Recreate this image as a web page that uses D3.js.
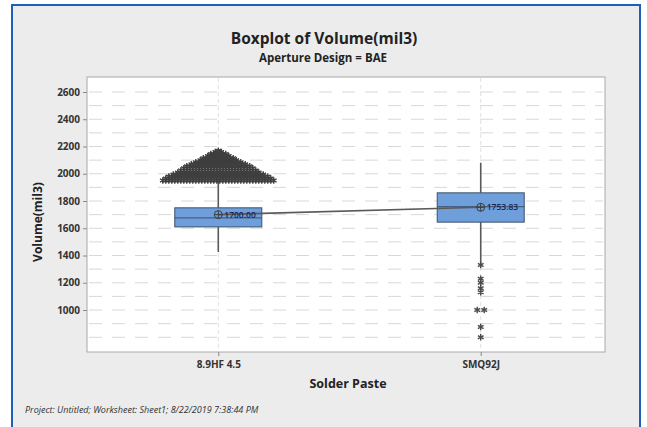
<!DOCTYPE html>
<html>
<head>
<meta charset="utf-8">
<script src="https://cdn.jsdelivr.net/npm/d3@7"></script>
<style>
  html, body { margin: 0; padding: 0; background: #ffffff; }
  svg { display: block; }
  text { font-family: "Open Sans", "Noto Sans", sans-serif; }
</style>
</head>
<body>
<div id="chart"></div>
<script>
// ---------- data ----------
const categories = ["8.9HF 4.5", "SMQ92J"];
const q1Values = [1610, 1645];
const medianValues = [1676, 1758];
const q3Values = [1750, 1860];
const whiskerLow = [1426, 1342];
const whiskerHigh = [1950, 2080];
const meanValues = [1700.00, 1753.83];
const meanLabels = ["1700.00", "1753.83"];

// outliers of "8.9HF 4.5": value levels and the number of tied points at each level
const outlierLevels1 = [1950, 1965, 1980, 1995, 2010, 2025, 2040, 2055, 2070, 2085, 2100, 2115, 2130, 2145, 2160, 2170];
const outlierCounts1 = [38, 36, 34, 31, 28, 26, 24, 22, 19, 16, 13, 11, 8, 6, 3, 1];
// outliers of "SMQ92J"
const outlierLevels2 = [1330, 1230, 1200, 1160, 1130, 1000, 875, 800];
const outlierCounts2 = [1, 1, 1, 1, 1, 2, 1, 1];

const yTicks = [1000, 1200, 1400, 1600, 1800, 2000, 2200, 2400, 2600];
const yGrid = [800, 900, 1000, 1100, 1200, 1300, 1400, 1500, 1600, 1700, 1800, 1900, 2000, 2100, 2200, 2300, 2400, 2500, 2600];

const titleText = "Boxplot of Volume(mil3)";
const subtitleText = "Aperture Design = BAE";
const xTitle = "Solder Paste";
const yTitle = "Volume(mil3)";
const footerText = "Project: Untitled; Worksheet: Sheet1; 8/22/2019 7:38:44 PM";

// ---------- layout ----------
const W = 647, H = 427;
const plot = { left: 87, right: 605, top: 77, bottom: 352 };

const svg = d3.select("#chart").append("svg").attr("width", W).attr("height", H);

// panel
svg.append("rect").attr("x", 0).attr("y", 0).attr("width", W).attr("height", H).attr("fill", "#ffffff");
svg.append("rect").attr("x", 12).attr("y", 5).attr("width", 628).attr("height", 440)
  .attr("fill", "#ececec").attr("stroke", "#1f5fb8").attr("stroke-width", 2);

// plot area
svg.append("rect").attr("x", plot.left).attr("y", plot.top)
  .attr("width", plot.right - plot.left).attr("height", plot.bottom - plot.top)
  .attr("fill", "#ffffff").attr("stroke", "#a8a8a8").attr("stroke-width", 1);

const y = d3.scaleLinear().domain([692, 2710]).range([plot.bottom, plot.top]);
const x = d3.scalePoint().domain(categories).range([91, 608]).padding(0.485);

// gridlines
const g = svg.append("g");
g.selectAll("line.hgrid").data(yGrid).enter().append("line")
  .attr("x1", plot.left + 2).attr("x2", plot.right - 2)
  .attr("y1", d => y(d)).attr("y2", d => y(d))
  .attr("stroke", "#d8d8d8").attr("stroke-width", 1).attr("stroke-dasharray", "13,10");
g.selectAll("line.vgrid").data(categories).enter().append("line")
  .attr("x1", d => x(d)).attr("x2", d => x(d))
  .attr("y1", plot.top + 1).attr("y2", plot.bottom - 1)
  .attr("stroke", "#e0e0e0").attr("stroke-width", 1).attr("stroke-dasharray", "4,3");

// axes
const yAxis = d3.axisLeft(y).tickValues(yTicks).tickSize(4).tickPadding(3).tickFormat(d3.format("d"));
const ya = svg.append("g").attr("transform", `translate(${plot.left},0)`).call(yAxis);
ya.select(".domain").remove();
ya.selectAll(".tick line").attr("stroke", "#8a8a8a");
ya.selectAll(".tick text").attr("font-size", 10).attr("font-weight", "bold").attr("fill", "#333");

const xAxis = d3.axisBottom(x).tickSize(4).tickPadding(5);
const xa = svg.append("g").attr("transform", `translate(0,${plot.bottom})`).call(xAxis);
xa.select(".domain").remove();
xa.selectAll(".tick line").attr("stroke", "#8a8a8a");
xa.selectAll(".tick text").attr("font-size", 10).attr("font-weight", "bold").attr("fill", "#333");

// asterisk symbol path
function asterisk(r) {
  const a = r * Math.cos(Math.PI / 6), b = r * Math.sin(Math.PI / 6);
  return `M0,${-r}L0,${r}M${-a},${-b}L${a},${b}M${-a},${b}L${a},${-b}`;
}

const boxW = 87;
const idx = d3.range(categories.length);

// whiskers
svg.selectAll("line.wl").data(idx).enter().append("line")
  .attr("x1", i => x(categories[i])).attr("x2", i => x(categories[i]))
  .attr("y1", i => y(q1Values[i])).attr("y2", i => y(whiskerLow[i]))
  .attr("stroke", "#595959").attr("stroke-width", 1.6);
svg.selectAll("line.wh").data(idx).enter().append("line")
  .attr("x1", i => x(categories[i])).attr("x2", i => x(categories[i]))
  .attr("y1", i => y(q3Values[i])).attr("y2", i => y(whiskerHigh[i]))
  .attr("stroke", "#595959").attr("stroke-width", 1.6);

// outliers
function drawOutliers(cat, levels, counts, spacing, r, color, sw) {
  const pts = [];
  levels.forEach((v, k) => {
    const n = counts[k];
    for (let j = 0; j < n; j++) pts.push({ v: v, dx: (j - (n - 1) / 2) * spacing });
  });
  svg.append("g").selectAll("path").data(pts).enter().append("path")
    .attr("transform", d => `translate(${x(cat) + d.dx},${y(d.v)})`)
    .attr("d", asterisk(r))
    .attr("stroke", color).attr("stroke-width", sw).attr("fill", "none");
}
drawOutliers(categories[0], outlierLevels1, outlierCounts1, 3, 3.2, "#3f3f3f", 1.4);
drawOutliers(categories[1], outlierLevels2, outlierCounts2, 7, 3.3, "#4a4a4a", 1.4);

// boxes
svg.selectAll("rect.box").data(idx).enter().append("rect")
  .attr("x", i => x(categories[i]) - boxW / 2).attr("width", boxW)
  .attr("y", i => y(q3Values[i])).attr("height", i => y(q1Values[i]) - y(q3Values[i]))
  .attr("fill", "#6e9fdb").attr("stroke", "#3b4f6e").attr("stroke-width", 1);
svg.selectAll("line.med").data(idx).enter().append("line")
  .attr("x1", i => x(categories[i]) - boxW / 2).attr("x2", i => x(categories[i]) + boxW / 2)
  .attr("y1", i => y(medianValues[i])).attr("y2", i => y(medianValues[i]))
  .attr("stroke", "#3b4f6e").attr("stroke-width", 1);

// mean connect line
const meanLine = d3.line().x(i => x(categories[i])).y(i => y(meanValues[i]));
svg.append("path").datum(idx).attr("d", meanLine)
  .attr("fill", "none").attr("stroke", "#5a5a5a").attr("stroke-width", 1.6);

// mean symbols
const ms = svg.selectAll("g.mean").data(idx).enter().append("g")
  .attr("transform", i => `translate(${x(categories[i])},${y(meanValues[i])})`);
ms.append("circle").attr("r", 4).attr("fill", "none").attr("stroke", "#3c3c3c").attr("stroke-width", 1);
ms.append("path").attr("d", "M-4,0L4,0M0,-4L0,4").attr("stroke", "#3c3c3c").attr("stroke-width", 1);
ms.append("text").attr("x", 6).attr("y", 3).attr("font-size", 8.5).attr("font-weight", 600).attr("fill", "#1a2450")
  .text(i => meanLabels[i]);

// titles
svg.append("text").attr("x", 324).attr("y", 44).attr("text-anchor", "middle")
  .attr("font-size", 15.5).attr("font-weight", "bold").attr("fill", "#222").text(titleText);
svg.append("text").attr("x", 323).attr("y", 62).attr("text-anchor", "middle")
  .attr("font-size", 11.5).attr("font-weight", "bold").attr("fill", "#222").text(subtitleText);
svg.append("text").attr("x", 348).attr("y", 388).attr("text-anchor", "middle")
  .attr("font-size", 12.5).attr("font-weight", "bold").attr("fill", "#222").text(xTitle);
svg.append("text").attr("transform", "translate(42,222) rotate(-90)").attr("text-anchor", "middle")
  .attr("font-size", 12).attr("font-weight", "bold").attr("fill", "#222").text(yTitle);
svg.append("text").attr("x", 25).attr("y", 413)
  .attr("font-size", 9).attr("font-style", "italic").attr("fill", "#333").text(footerText);
</script>
</body>
</html>
